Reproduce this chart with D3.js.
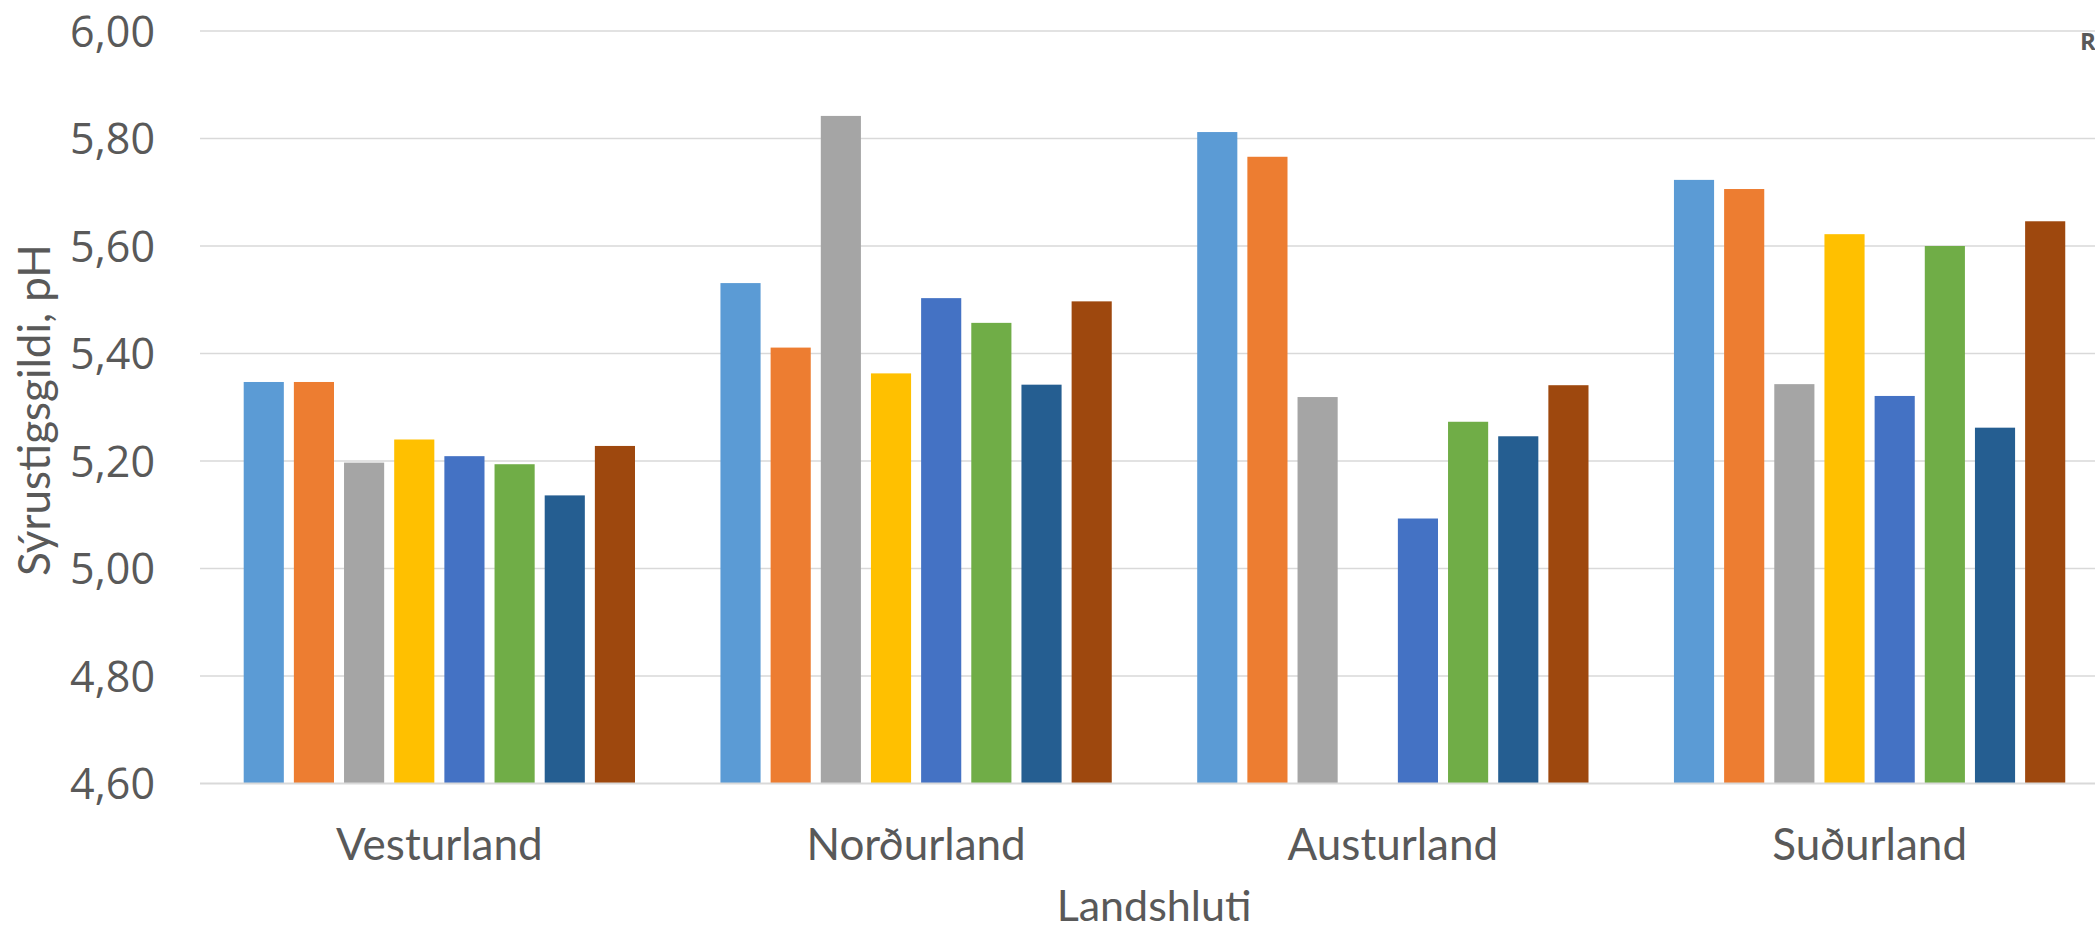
<!DOCTYPE html>
<html>
<head>
<meta charset="utf-8">
<script src="https://cdn.jsdelivr.net/npm/d3@7"></script>
<style>
  html, body { margin: 0; padding: 0; background: #ffffff; overflow: hidden; }
  svg { display: block; }
</style>
</head>
<body>
<script>
// ---- data ----
const categories = ["Vesturland", "Norðurland", "Austurland", "Suðurland"];
const seriesNames = ["S1", "S2", "S3", "S4", "S5", "S6", "S7", "S8"];
const seriesColors = ["#5B9BD5", "#ED7D31", "#A5A5A5", "#FFC000", "#4472C4", "#70AD47", "#255E91", "#9E480E"];
// values per series, in category order
const s1 = [5.347, 5.531, 5.812, 5.723];
const s2 = [5.347, 5.411, 5.766, 5.706];
const s3 = [5.197, 5.842, 5.319, 5.343];
const s4 = [5.240, 5.363, null,  5.622];
const s5 = [5.209, 5.503, 5.093, 5.321];
const s6 = [5.194, 5.457, 5.273, 5.600];
const s7 = [5.136, 5.342, 5.246, 5.262];
const s8 = [5.228, 5.497, 5.341, 5.646];
const seriesValues = [s1, s2, s3, s4, s5, s6, s7, s8];
const yTicks = [4.6, 4.8, 5.0, 5.2, 5.4, 5.6, 5.8, 6.0];
const yTitle = "Sýrustigsgildi, pH";
const xTitle = "Landshluti";
const cornerText = "R";

// ---- layout ----
const W = 2095, H = 931;
const plotLeft = 200, plotRight = 2108, plotTop = 31, plotBottom = 783.5;

const svg = d3.select("body").append("svg").attr("width", W).attr("height", H);

const x0 = d3.scaleBand().domain(categories).range([201, plotRight]).padding(0);
const x1 = d3.scaleBand().domain(seriesNames).range([42.7, 434]).paddingInner(0.2).paddingOuter(0);
const y = d3.scaleLinear().domain([4.6, 6.0]).range([plotBottom, plotTop]);

// gridlines
svg.append("g").selectAll("line").data(yTicks.filter(t => t > 4.6)).join("line")
  .attr("x1", plotLeft).attr("x2", plotRight)
  .attr("y1", d => y(d)).attr("y2", d => y(d))
  .attr("stroke", "#d9d9d9").attr("stroke-width", 1.6);

// y axis labels
const yAxis = d3.axisLeft(y).tickValues(yTicks).tickSize(0).tickPadding(0)
  .tickFormat(d => d3.format(".2f")(d).replace(".", ","));
const yg = svg.append("g").attr("transform", `translate(155,0)`).call(yAxis);
yg.select(".domain").remove();
yg.selectAll("text")
  .attr("font-family", "'Open Sans', 'Noto Sans', sans-serif")
  .attr("font-size", 43).attr("fill", "#595959").attr("dy", "0.36em");

// bars
const rows = [];
categories.forEach((c, ci) => {
  seriesNames.forEach((s, si) => {
    const v = seriesValues[si][ci];
    if (v != null) rows.push({ c, s, v, color: seriesColors[si] });
  });
});
svg.append("g").selectAll("rect").data(rows).join("rect")
  .attr("x", d => x0(d.c) + x1(d.s))
  .attr("width", x1.bandwidth())
  .attr("y", d => y(d.v))
  .attr("height", d => y(4.6) - y(d.v))
  .attr("fill", d => d.color);

// baseline axis
svg.append("line").attr("x1", plotLeft).attr("x2", plotRight)
  .attr("y1", plotBottom).attr("y2", plotBottom)
  .attr("stroke", "#d9d9d9").attr("stroke-width", 2);

// x axis category labels
const xAxis = d3.axisBottom(x0).tickSize(0).tickPadding(0);
const xg = svg.append("g").attr("transform", `translate(0,860)`).call(xAxis);
xg.select(".domain").remove();
xg.selectAll("text")
  .attr("font-family", "Lato, 'Open Sans', sans-serif")
  .attr("font-size", 44).attr("fill", "#595959").attr("dy", 0);

// axis titles
svg.append("text").attr("x", (plotLeft + plotRight) / 2).attr("y", 921)
  .attr("text-anchor", "middle")
  .attr("font-family", "Lato, 'Open Sans', sans-serif")
  .attr("font-size", 43).attr("fill", "#595959").text(xTitle);

svg.append("text")
  .attr("transform", `translate(50,410) rotate(-90)`)
  .attr("text-anchor", "middle")
  .attr("font-family", "Lato, 'Open Sans', sans-serif")
  .attr("font-size", 44).attr("fill", "#595959").text(yTitle);

// cut-off legend fragment at top right
svg.append("text").attr("x", 2080).attr("y", 50)
  .attr("font-family", "'Open Sans', sans-serif").attr("font-weight", "bold")
  .attr("font-size", 24).attr("fill", "#595959").text(cornerText);
</script>
</body>
</html>
